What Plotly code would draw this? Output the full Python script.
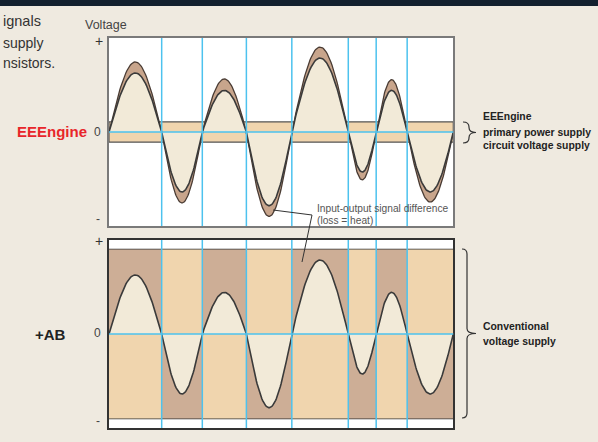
import numpy as np
import plotly.graph_objects as go

W, H = 598, 442

# ---- data ----
crossings = [0, 15.3, 27.1, 39.9, 53.1, 69.5, 77.6, 86.6, 100]      # zero crossings (time units)
polarity = [1, -1, 1, -1, 1, -1, 1, -1]                             # sign of each half-cycle
input_peaks = [0.745, 0.755, 0.564, 0.898, 0.904, 0.51, 0.556, 0.745]   # input signal (outer)
output_peaks = [0.628, 0.638, 0.443, 0.784, 0.787, 0.426, 0.443, 0.638]  # output signal (inner)
eee_rail = 0.108      # EEEngine supply rail (+/-)
ab_rail = 0.90        # conventional supply rail (+/-)
axis_ticks = ["+", "0", "-"]

# ---- styles ----
FONT = "Liberation Sans, Arial, sans-serif"
BG = "#EFEAE0"
BROWN = "#C8A58C"
CREAM = "#F2EAD8"
TAN = "#F0D5AE"
DARKTAN = "#CDAE96"
BLUE = "#4DC2EE"
LINE = "#3A3A3A"


def half_cycles(peaks):
    xs, ys = [], []
    for i in range(len(peaks)):
        x0, x1 = crossings[i], crossings[i + 1]
        t = np.linspace(x0, x1, 60)
        y = polarity[i] * peaks[i] * np.sin(np.pi * (t - x0) / (x1 - x0))
        if i > 0:
            t, y = t[1:], y[1:]
        xs.extend(t.tolist())
        ys.extend(y.tolist())
    return xs, ys


def P(x, y):
    return x / W, 1 - y / H


fig = go.Figure()

xin, yin = half_cycles(input_peaks)
xout, yout = half_cycles(output_peaks)

# top panel: input (outer, brown) and output (inner, cream)
fig.add_trace(go.Scatter(x=xin, y=yin, mode="lines", fill="tozeroy", fillcolor=BROWN,
                         line=dict(color="#4A3C34", width=1.3), xaxis="x", yaxis="y",
                         hoverinfo="skip", showlegend=False))
fig.add_trace(go.Scatter(x=xout, y=yout, mode="lines", fill="tozeroy", fillcolor=CREAM,
                         line=dict(color=LINE, width=1.6), xaxis="x", yaxis="y",
                         hoverinfo="skip", showlegend=False))
# bottom panel: output only
fig.add_trace(go.Scatter(x=xout, y=yout, mode="lines", fill="tozeroy", fillcolor=CREAM,
                         line=dict(color=LINE, width=1.6), xaxis="x2", yaxis="y2",
                         hoverinfo="skip", showlegend=False))

shapes = []
# top panel EEEngine rail band
shapes.append(dict(type="rect", xref="x", yref="y", x0=crossings[0], x1=crossings[-1],
                   y0=-eee_rail, y1=eee_rail, fillcolor=TAN,
                   line=dict(color="#555", width=1.2), layer="below"))
# bottom panel: alternating supply areas
for i in range(len(polarity)):
    x0, x1 = crossings[i], crossings[i + 1]
    up = DARKTAN if polarity[i] > 0 else TAN
    dn = TAN if polarity[i] > 0 else DARKTAN
    shapes.append(dict(type="rect", xref="x2", yref="y2", x0=x0, x1=x1, y0=0, y1=ab_rail,
                       fillcolor=up, line=dict(width=0), layer="below"))
    shapes.append(dict(type="rect", xref="x2", yref="y2", x0=x0, x1=x1, y0=-ab_rail, y1=0,
                       fillcolor=dn, line=dict(width=0), layer="below"))
for r in (ab_rail, -ab_rail):
    shapes.append(dict(type="line", xref="x2 domain", yref="y2", x0=0, x1=1, y0=r, y1=r,
                       line=dict(color="#333", width=1.3), layer="below"))
# blue crossing lines and zero lines
for xa, ya in (("x", "y"), ("x2", "y2")):
    for c in crossings[1:-1]:
        shapes.append(dict(type="line", xref=xa, yref=ya + " domain", x0=c, x1=c, y0=0, y1=1,
                           line=dict(color=BLUE, width=1.5)))
    shapes.append(dict(type="line", xref=xa + " domain", yref=ya, x0=0, x1=1, y0=0, y1=0,
                       line=dict(color=BLUE, width=1.5)))

# top banner
shapes.append(dict(type="rect", xref="paper", yref="paper", x0=0, x1=1, y0=1 - 6 / H, y1=1,
                   fillcolor="#13202E", line=dict(width=0)))

# leader line
pts = [P(273, 210), P(312, 215), P(302, 262)]
path = "M {} {} L {} {} L {} {}".format(*[v for p in pts for v in p])
shapes.append(dict(type="path", xref="paper", yref="paper", path=path,
                   line=dict(color="#333", width=1)))


def brace(xl, xs, xt, ytop, ybot):
    ym = (ytop + ybot) / 2
    r = min(5, (ybot - ytop) / 4)
    pts = [
        ("M", [(xl, ytop)]),
        ("Q", [(xs, ytop), (xs, ytop + r)]),
        ("L", [(xs, ym - r)]),
        ("Q", [(xs, ym), (xt, ym)]),
        ("Q", [(xs, ym), (xs, ym + r)]),
        ("L", [(xs, ybot - r)]),
        ("Q", [(xs, ybot), (xl, ybot)]),
    ]
    s = []
    for cmd, ps in pts:
        s.append(cmd + " " + " ".join("{:.5f},{:.5f}".format(*P(x, y)) for x, y in ps))
    return " ".join(s)


shapes.append(dict(type="path", xref="paper", yref="paper", path=brace(463, 469, 476, 122, 143),
                   line=dict(color="#333", width=1.2)))
shapes.append(dict(type="path", xref="paper", yref="paper", path=brace(462, 467, 476, 249, 418),
                   line=dict(color="#333", width=1.2)))

annotations = []


def txt(text, x, y, size, color="#333", bold=False, xanchor="left"):
    px_, py_ = P(x, y)
    annotations.append(dict(text=("<b>%s</b>" % text) if bold else text, x=px_, y=py_,
                            xref="paper", yref="paper", xanchor=xanchor, yanchor="middle",
                            showarrow=False, font=dict(family=FONT, size=size, color=color)))


txt("ignals", 0.5, 21, 14.5)
txt("supply", 0.5, 43, 14)
txt("nsistors.", 0.5, 63, 14)
txt("Voltage", 105.5, 25, 12.5, "#444", xanchor="center")
txt(axis_ticks[0], 98.5, 41, 14, "#333", xanchor="center")
txt(axis_ticks[1], 97.5, 132, 12, "#444", xanchor="center")
txt(axis_ticks[2], 97.5, 219, 12, "#444", xanchor="center")
txt("EEEngine", 88.5, 131.5, 15, "#E8262A", bold=True, xanchor="right")
txt(axis_ticks[0], 98.5, 241.5, 14, "#333", xanchor="center")
txt(axis_ticks[1], 97.5, 333, 12, "#444", xanchor="center")
txt(axis_ticks[2], 97.5, 421, 12, "#444", xanchor="center")
txt("+AB", 68, 334, 15, "#222", bold=True, xanchor="right")
txt("Input-output signal difference", 314.5, 208.5, 10.2, "#555")
txt("(loss = heat)", 314.5, 220, 10.2, "#555")
txt("EEEngine", 481, 117, 10.4, "#222", bold=True)
txt("primary power supply", 481, 132, 10.4, "#222", bold=True)
txt("circuit voltage supply", 481, 146, 10.4, "#222", bold=True)
txt("Conventional", 481, 326, 10.4, "#222", bold=True)
txt("voltage supply", 481, 341, 10.4, "#222", bold=True)

xdom = [109 / W, 453.3 / W]
axcommon = dict(showgrid=False, zeroline=False, showticklabels=False, ticks="",
                showline=True, mirror=True)
fig.update_layout(
    width=W, height=H, margin=dict(l=0, r=0, t=0, b=0),
    paper_bgcolor=BG, plot_bgcolor="white", showlegend=False,
    xaxis=dict(domain=xdom, range=[crossings[0], crossings[-1]], anchor="y",
               linecolor="#7A7A7A", linewidth=1.5, **axcommon),
    yaxis=dict(domain=[1 - 226 / H, 1 - 38 / H], range=[-1, 1], anchor="x",
               linecolor="#7A7A7A", linewidth=1.5, **axcommon),
    xaxis2=dict(domain=xdom, range=[crossings[0], crossings[-1]], anchor="y2",
                linecolor="#333", linewidth=1.5, **axcommon),
    yaxis2=dict(domain=[1 - 428 / H, 1 - 240 / H], range=[-1, 1], anchor="x2",
                linecolor="#333", linewidth=1.5, **axcommon),
    shapes=shapes, annotations=annotations,
)

fig.write_html("out.html", config={"displayModeBar": False},
               post_script="document.body.style.margin='0';document.body.style.overflow='hidden';")
